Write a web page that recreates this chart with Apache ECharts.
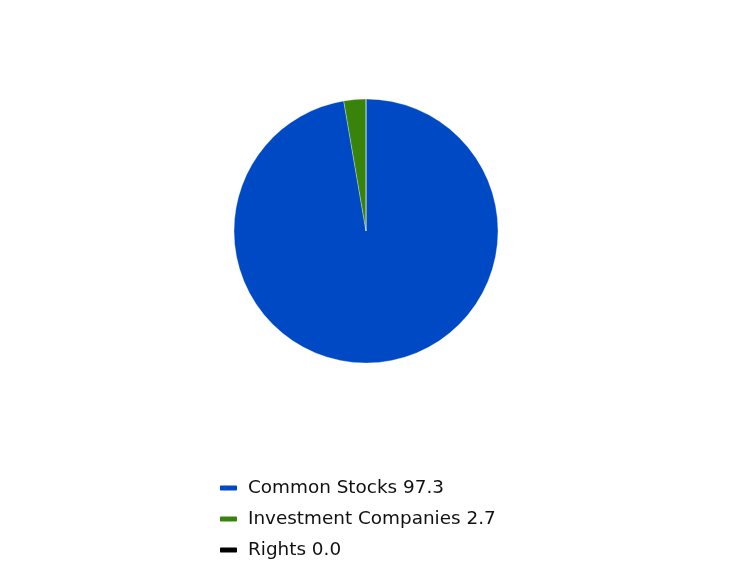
<!DOCTYPE html>
<html>
<head>
    <meta charset="utf-8">
    <script type="text/javascript" src="https://cdn.jsdelivr.net/npm/echarts@6/dist/echarts.min.js"></script>
    <style>html,body{margin:0;padding:0;background:#fff;}</style>
</head>
<body>
<div id="main" style="width:732px;height:564px;"></div>
<script type="text/javascript">
    var categories = ['Common Stocks', 'Investment Companies', 'Rights'];
    var values = [97.3, 2.7, 0.0];
    var colors = ['#0049c4', '#38830a', '#000000'];

    var myChart = echarts.init(document.getElementById('main'));

    var pieData = categories.map(function (name, i) {
        return { name: name, value: values[i], itemStyle: { color: colors[i] } };
    });

    var option = {
        animation: false,
        legend: {
            orient: 'vertical',
            left: 213,
            top: 474,
            height: 100,
            itemWidth: 19,
            itemHeight: 7,
            itemGap: 13,
            icon: 'roundRect',
            textStyle: { fontFamily: 'DejaVu Sans', fontSize: 18.4, color: '#111', padding: [0, 0, 0, 5] },
            formatter: function (name) {
                var i = categories.indexOf(name);
                return name + ' ' + values[i].toFixed(1);
            },
            data: categories
        },
        series: [
            {
                type: 'pie',
                center: [366, 231],
                radius: 132,
                startAngle: 90,
                clockwise: true,
                label: { show: false },
                labelLine: { show: false },
                itemStyle: { borderColor: '#fff', borderWidth: 0.3 },
                emphasis: { disabled: true },
                data: pieData
            }
        ]
    };
    myChart.setOption(option);
</script>
</body>
</html>
